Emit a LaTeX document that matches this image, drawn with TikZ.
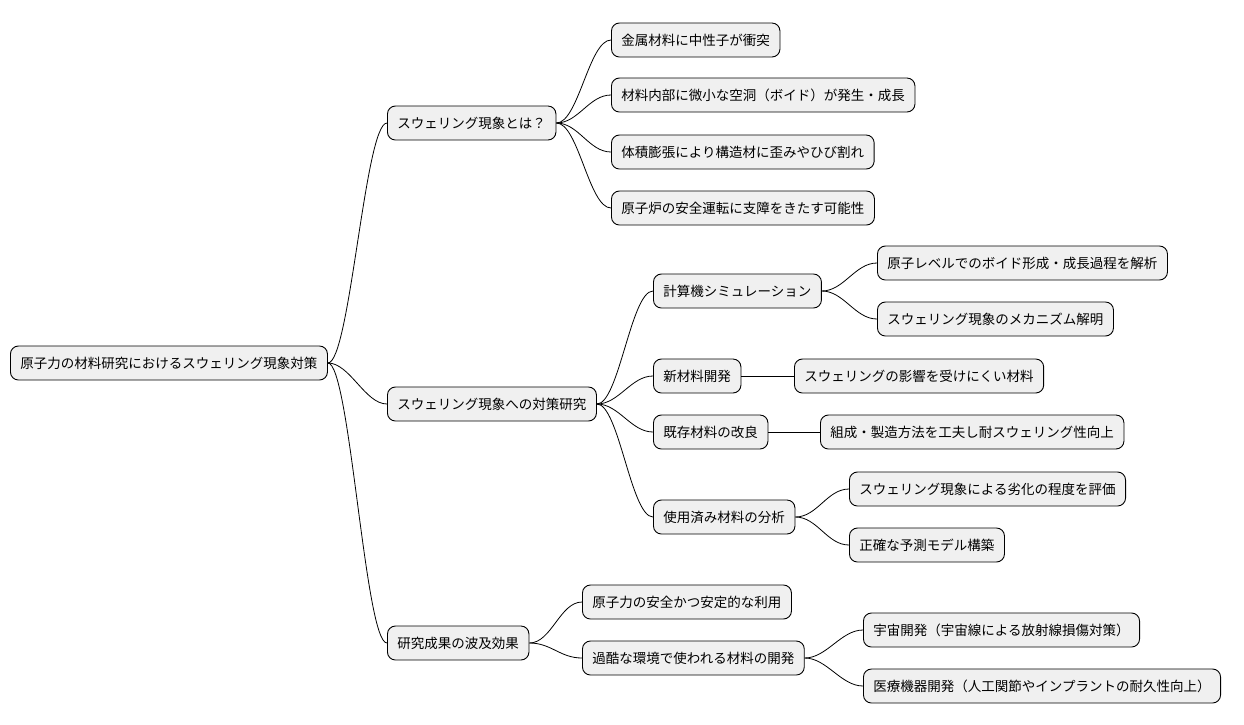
\documentclass[tikz,border=0pt]{standalone}
\usepackage{fontspec}
\setmainfont{Noto Sans CJK JP}
\begin{document}
\begin{tikzpicture}[x=1pt,y=-1pt,
  box/.style={draw=black,fill=black!6,rounded corners=8pt,anchor=west,minimum height=34pt,inner xsep=10pt,font=\fontsize{13.5pt}{15pt}\selectfont,line width=0.9pt},
  ed/.style={line width=0.8pt}]
\useasboundingbox (0,0) rectangle (1244,724);
\node[box] (r) at (10,363) {原子力の材料研究におけるスウェリング現象対策};
\node[box] (a) at (387,123) {スウェリング現象とは？};
\node[box] (a1) at (611,40) {金属材料に中性子が衝突};
\node[box] (a2) at (611,95) {材料内部に微小な空洞（ボイド）が発生・成長};
\node[box] (a3) at (611,152) {体積膨張により構造材に歪みやひび割れ};
\node[box] (a4) at (611,208) {原子炉の安全運転に支障をきたす可能性};
\node[box] (b) at (387,404) {スウェリング現象への対策研究};
\node[box] (b1) at (653,291) {計算機シミュレーション};
\node[box] (b11) at (877,263) {原子レベルでのボイド形成・成長過程を解析};
\node[box] (b12) at (877,319) {スウェリング現象のメカニズム解明};
\node[box] (b2) at (653,376) {新材料開発};
\node[box] (b21) at (794,376) {スウェリングの影響を受けにくい材料};
\node[box] (b3) at (653,432) {既存材料の改良};
\node[box] (b31) at (820,432) {組成・製造方法を工夫し耐スウェリング性向上};
\node[box] (b4) at (653,517) {使用済み材料の分析};
\node[box] (b41) at (849,489) {スウェリング現象による劣化の程度を評価};
\node[box] (b42) at (849,545) {正確な予測モデル構築};
\node[box] (c) at (387,643) {研究成果の波及効果};
\node[box] (c1) at (582,602) {原子力の安全かつ安定的な利用};
\node[box] (c2) at (582,658) {過酷な環境で使われる材料の開発};
\node[box] (c21) at (863,630) {宇宙開発（宇宙線による放射線損傷対策）};
\node[box] (c22) at (863,686) {医療機器開発（人工関節やインプラントの耐久性向上）};
\foreach \p/\c in {r/a,r/b,r/c,a/a1,a/a2,a/a3,a/a4,b/b1,b/b2,b/b3,b/b4,b1/b11,b1/b12,b2/b21,b3/b31,b4/b41,b4/b42,c/c1,c/c2,c2/c21,c2/c22}
  \draw[ed] (\p.east) .. controls +(22,0) and +(-22,0) .. (\c.west);
\end{tikzpicture}
\end{document}
